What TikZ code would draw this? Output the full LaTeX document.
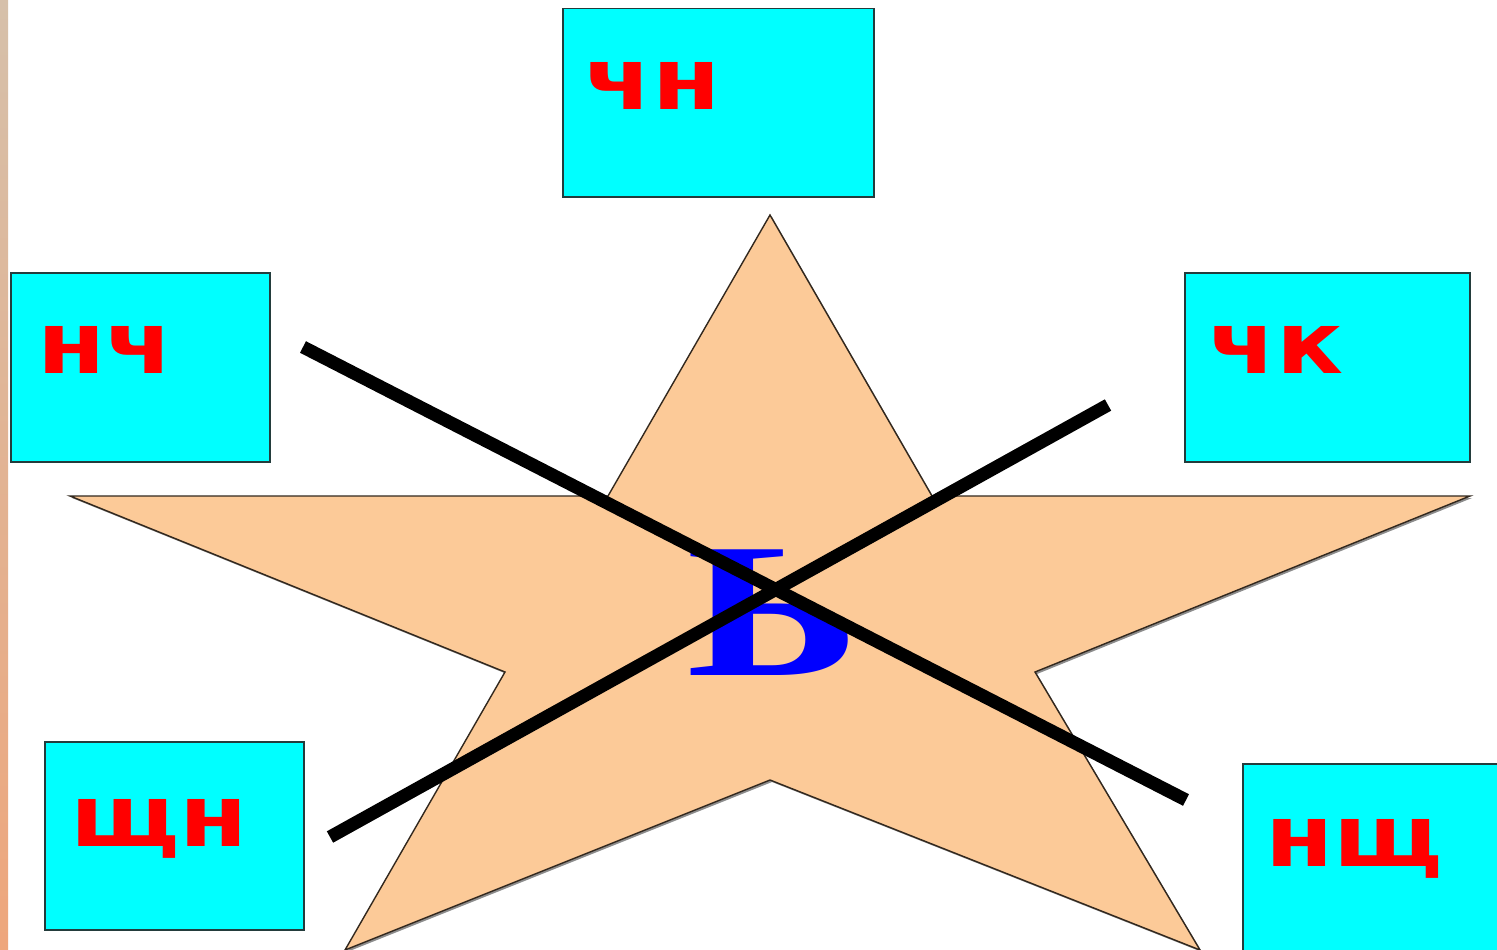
\documentclass[tikz,border=0pt]{standalone}
\usepackage{fontspec}
\newfontfamily\syllfont{DejaVu Sans}
\newfontfamily\signfont{Liberation Serif}
\usetikzlibrary{positioning}
\definecolor{starpeach}{RGB}{252,202,152}
\definecolor{starline}{RGB}{50,40,30}
\definecolor{boxcyan}{RGB}{0,255,255}
\definecolor{boxedge}{RGB}{35,60,60}
\definecolor{syllred}{RGB}{255,0,0}
\definecolor{signblue}{RGB}{0,0,255}
\definecolor{stripetan}{RGB}{214,192,170}
\definecolor{stripeblue}{RGB}{188,218,220}
\definecolor{stripesalmon}{RGB}{238,166,124}

\tikzset{
  syllbox/.style={draw=boxedge, line width=1.5pt, fill=boxcyan, inner sep=0pt, anchor=north west},
  syll/.style={text=syllred, font=\syllfont\bfseries\fontsize{86}{86}\selectfont, inner sep=0pt,
    anchor=base west, xscale=1.15},
  crossline/.style={line width=13pt},
}

\begin{document}
\begin{tikzpicture}[x=1pt, y=-1pt]
  \useasboundingbox (0,0) rectangle (1497,950);
  \clip (0,0) rectangle (1497,950);
  \fill[white] (0,0) rectangle (1497,950);
  % left edge strip
  \shade[top color=stripetan, middle color=stripeblue, bottom color=stripesalmon] (0,0) rectangle (8,950);

  % the star
  \fill[black!45] (772,217) -- (934,498) -- (1472,498) -- (1037,674) -- (1202,952) -- (772,782)
    -- (347,952) -- (507,674) -- (72,498) -- (610,498) -- cycle;
  \filldraw[fill=starpeach, draw=starline, line width=1.4pt] (770,215) -- (932,496) -- (1470,496)
    -- (1035,672) -- (1200,950) -- (770,780) -- (345,950) -- (505,672) -- (70,496) -- (608,496) -- cycle;

  % boxes
  \node[syllbox, minimum width=311pt, minimum height=188pt] (chnbox) at (562,8) {};
  \node[syllbox, minimum width=259pt, minimum height=189pt] (nchbox) at (10,272) {};
  \node[syllbox, minimum width=285pt, minimum height=189pt] (chkbox) at (1184,272) {};
  \node[syllbox, minimum width=259pt, minimum height=188pt] (shchnbox) at (44,741) {};
  \node[syllbox, minimum width=280pt, minimum height=220pt] (nshchbox) at (1242,763) {};

  \node[syll] (chn) at (584,110) {чн};
  \node[syll] (nch) at (37,373) {нч};
  \node[syll] (chk) at (1208,373) {чк};
  \node[syll] (shchn) at (70,846) {щн};
  \node[syll] (nshch) at (1265,866) {нщ};

  % the soft sign, crossed out
  \node[text=signblue, font=\signfont\bfseries\fontsize{192}{192}\selectfont, inner sep=0pt,
    anchor=base, xscale=1.37] (sign) at (773,675) {Ь};
  \coordinate (crossA) at (303,347);
  \coordinate (crossB) at (1186,800);
  \coordinate (crossC) at (330,837);
  \coordinate (crossD) at (1108,405);
  \draw[crossline] (crossA) -- (crossB);
  \draw[crossline] (crossC) -- (crossD);
\end{tikzpicture}
\end{document}
